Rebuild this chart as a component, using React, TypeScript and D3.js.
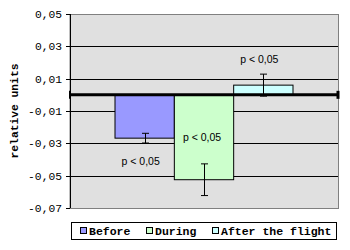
import React from "react";
import * as d3 from "d3";

const series = ["Before", "During", "After the flight"];
const values = [-0.0268, -0.0525, 0.006];
const errors = [0.003, 0.0098, 0.0068];
const colors = ["#9999FF", "#CCFFCC", "#CCFFFF"];
const pLabels = ["p < 0,05", "p < 0,05", "p < 0,05"];
const yTicks = [0.05, 0.03, 0.01, -0.01, -0.03, -0.05, -0.07];
const yTitle = "relative units";

const W = 350, H = 250;
const plot = { left: 70, top: 14, right: 338, bottom: 208 };

export default function App() {
  const y = d3.scaleLinear().domain([-0.07, 0.05]).range([plot.bottom, plot.top]);
  const groupWidth = 178;
  const cx = (plot.left + plot.right) / 2;
  const x = d3.scaleBand<string>()
    .domain(series)
    .range([cx - groupWidth / 2, cx + groupWidth / 2])
    .padding(0);
  const fmt = (v: number) => d3.format(".2f")(v).replace(".", ",").replace("−", "-");
  const mono = "'Liberation Mono', 'DejaVu Sans Mono', monospace";
  const sans = "'Liberation Sans', Arial, sans-serif";
  const labelY = (i: number) => {
    const v = values[i];
    if (v >= 0) return y(v + errors[i]) - 15;
    return i === 0 ? y(v - errors[i]) + 18 : y(v) - 42;
  };
  const labelX = (i: number) => (x(series[i]) as number) + x.bandwidth() / 2 + (i === 0 ? -4 : i === 1 ? -2 : -4);

  const legendX = d3.scalePoint<string>().domain(series).range([80, 212]);

  return (
    <svg width={W} height={H} style={{ position: "absolute", left: 0, top: 0, background: "#fff" }}>
      <rect x={plot.left} y={plot.top + 0.5} width={plot.right - plot.left + 0.5} height={plot.bottom - plot.top} fill="#E0E0E0" stroke="#808080" strokeWidth={1} />
      {yTicks.map((t) => (
        <g key={t}>
          {t !== 0.05 && t !== -0.07 && (
            <line x1={plot.left} x2={plot.right} y1={Math.round(y(t)) + 0.5} y2={Math.round(y(t)) + 0.5} stroke="#000" strokeWidth={1} />
          )}
          <line x1={plot.left - 4} x2={plot.left} y1={Math.round(y(t)) + 0.5} y2={Math.round(y(t)) + 0.5} stroke="#000" />
          <text x={62} y={y(t)} dy="0.35em" textAnchor="end" fontFamily={mono} fontSize={11.3} fill="#000">{fmt(t)}</text>
        </g>
      ))}
      <line x1={plot.left + 0.5} x2={plot.left + 0.5} y1={plot.top} y2={plot.bottom} stroke="#000" />
      {series.map((s, i) => {
        const x0 = x(s) as number;
        const y0 = y(Math.max(0, values[i]));
        const y1 = y(Math.min(0, values[i]));
        return (
          <rect key={s} x={x0} y={y0} width={x.bandwidth()} height={y1 - y0} fill={colors[i]} stroke="#000" strokeWidth={1} />
        );
      })}
      {series.map((s, i) => {
        const ex = Math.round((x(s) as number) + x.bandwidth() / 2) + 0.5;
        const top = y(values[i] + errors[i]);
        const bot = y(values[i] - errors[i]);
        return (
          <g key={s + "e"} stroke="#000" strokeWidth={1}>
            <line x1={ex} x2={ex} y1={top} y2={bot} />
            <line x1={ex - 3.5} x2={ex + 3.5} y1={top} y2={top} />
            <line x1={ex - 3.5} x2={ex + 3.5} y1={bot} y2={bot} />
          </g>
        );
      })}
      <line x1={plot.left} x2={plot.right} y1={y(0)} y2={y(0)} stroke="#000" strokeWidth={3} />
      <line x1={plot.left} x2={plot.left} y1={y(0) - 4} y2={y(0) + 4} stroke="#000" strokeWidth={2} />
      <line x1={plot.right} x2={plot.right} y1={y(0) - 4} y2={y(0) + 4} stroke="#000" strokeWidth={3} />
      {series.map((s, i) => (
        <text key={s + "p"} x={labelX(i)} y={labelY(i)} dy="0.35em" textAnchor="middle" fontFamily={sans} fontSize={10.5} fill="#000">{pLabels[i]}</text>
      ))}
      <text transform={`translate(14,${(plot.top + plot.bottom) / 2}) rotate(-90)`} textAnchor="middle" dy="0.35em" fontFamily={mono} fontWeight="bold" fontSize={11.3} fill="#000">{yTitle}</text>
      <rect x={71.5} y={222.5} width={265} height={17} fill="#fff" stroke="#000" strokeWidth={1} />
      {series.map((s, i) => (
        <g key={s + "l"}>
          <rect x={(legendX(s) as number) + 0.5} y={227.5} width={6} height={6} fill={colors[i]} stroke="#000" strokeWidth={1} />
          <text x={(legendX(s) as number) + 9} y={231} dy="0.35em" fontFamily={mono} fontWeight="bold" fontSize={11.5} fill="#000">{s}</text>
        </g>
      ))}
    </svg>
  );
}
